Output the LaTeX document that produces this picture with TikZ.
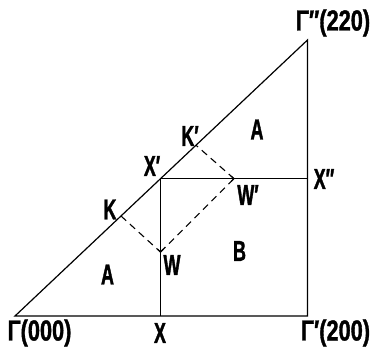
\documentclass[tikz,border=0pt]{standalone}
\usepackage{fontspec}
\usetikzlibrary{calc}
\newfontfamily\labfont[FakeStretch=0.62,BoldFeatures={FakeBold=1.2}]{Liberation Sans}
\newfontfamily\numfont[FakeStretch=0.75,BoldFeatures={FakeBold=1.2}]{Liberation Sans}
\begin{document}
\begin{tikzpicture}[x=1pt,y=1pt,
  edge/.style={line width=1.2pt},
  dashline/.style={line width=1.1pt,dash pattern=on 7pt off 5pt},
  lab/.style={inner sep=0pt,font=\labfont\bfseries\fontsize{29}{29}\selectfont},
  numlab/.style={inner sep=0pt,font=\numfont\bfseries\fontsize{29}{29}\selectfont}]
\useasboundingbox (0,0) rectangle (371,348);
\coordinate (G0) at (15,32);
\coordinate (G1) at (307.5,32);
\coordinate (G2) at (307.5,308);
\coordinate (X) at (160.5,32);
\coordinate (Xp) at (160.5,169.3);
\coordinate (Xpp) at (307.5,169.3);
\coordinate (W) at (160.5,96);
\coordinate (Wp) at (234,169.3);
\coordinate (K) at (121,132);
\coordinate (Kp) at (196,202.8);
\draw[edge,line join=miter] (G0) -- (G1) -- (G2) -- cycle;
\draw[edge] (X) -- (Xp) -- (Xpp);
\draw[dashline] (K) -- (W);
\draw[dashline] (W) -- (Wp);
\draw[dashline] (Wp) -- (Kp);
\draw[line width=1.1pt] ($(W)!4pt!(K)$) -- (W) -- ($(W)!4pt!(Wp)$);
\draw[line width=1.1pt] ($(Wp)!4pt!(Kp)$) -- (Wp) -- ($(Wp)!4pt!(W)$);
\node[numlab] (lG0) at (39.5,15) {Γ(000)};
\node[lab] (lX) at (160,15) {X};
\node[numlab] (lG1) at (335.5,15) {Γ′(200)};
\node[numlab] (lG2) at (333,325) {Γ″(220)};
\node[lab] (lXpp) at (324,169) {X″};
\node[lab] (lWp) at (248,153) {W′};
\node[lab] (lKp) at (190,212) {K′};
\node[lab] (lXp) at (152,182) {X′};
\node[lab] (lK) at (110,138.5) {K};
\node[lab] (lW) at (172,83) {W};
\node[lab] (lA1) at (107.5,73.5) {A};
\node[lab] (lB) at (239.5,97) {B};
\node[lab] (lA2) at (257,218.5) {A};
\end{tikzpicture}
\end{document}
